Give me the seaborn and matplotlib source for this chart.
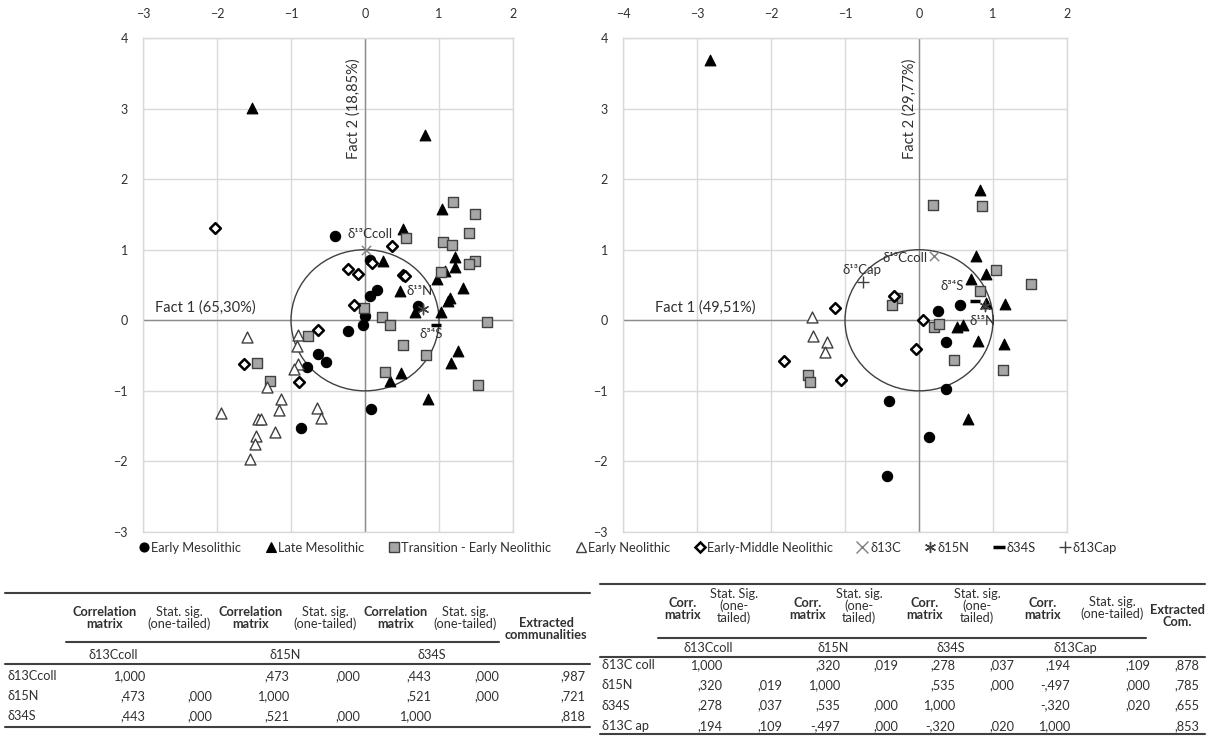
import matplotlib
matplotlib.use("Agg")
import matplotlib.pyplot as plt
from matplotlib.lines import Line2D
from matplotlib.patches import Circle
import seaborn as sns
import pandas as pd

# ---------------- data ----------------
groups = ["Early Mesolithic", "Late Mesolithic", "Transition - Early Neolithic",
          "Early Neolithic", "Early-Middle Neolithic"]

# left panel (3 isotopes)
em_L_x = [-0.41, 0.07, 0.16, 0.07, 0.00, -0.03, -0.23, -0.64, -0.53, -0.78, 0.08, -0.87, 0.72]
em_L_y = [1.20, 0.85, 0.43, 0.34, 0.06, -0.06, -0.15, -0.48, -0.59, -0.66, -1.26, -1.52, 0.20]
lm_L_x = [-1.53, 0.81, 1.04, 0.52, 0.24, 1.22, 1.22, 0.97, 1.08, 0.47, 1.32, 1.15, 1.12, 0.68,
          1.03, 1.26, 1.16, 0.49, 0.34, 0.85]
lm_L_y = [3.01, 2.62, 1.58, 1.29, 0.84, 0.89, 0.76, 0.59, 0.70, 0.42, 0.46, 0.32, 0.28, 0.12,
          0.12, -0.44, -0.61, -0.74, -0.86, -1.12]
tr_L_x = [1.19, 1.49, 1.40, 1.06, 1.17, 0.56, 1.49, 1.40, 1.03, -0.01, 0.23, 0.34, 1.65, 0.51,
          0.82, 0.27, 1.53, -0.77, -1.46, -1.29]
tr_L_y = [1.67, 1.51, 1.23, 1.11, 1.07, 1.16, 0.84, 0.80, 0.68, 0.17, 0.04, -0.07, -0.02, -0.35,
          -0.49, -0.73, -0.92, -0.22, -0.60, -0.86]
en_L_x = [-1.60, -0.91, -0.92, -0.90, -0.96, -1.33, -1.13, -1.16, -0.65, -0.60, -1.95, -1.44,
          -1.40, -1.22, -1.47, -1.49, -1.55]
en_L_y = [-0.23, -0.21, -0.36, -0.62, -0.69, -0.95, -1.12, -1.27, -1.24, -1.38, -1.32, -1.40,
          -1.40, -1.59, -1.64, -1.75, -1.97]
emn_L_x = [-2.03, 0.37, 0.09, -0.23, -0.10, 0.52, 0.54, -0.15, -0.64, -1.64, -0.89]
emn_L_y = [1.31, 1.05, 0.81, 0.72, 0.66, 0.64, 0.63, 0.21, -0.14, -0.62, -0.87]

# right panel (4 isotopes)
em_R_x = [0.25, 0.55, 0.37, 0.37, -0.40, 0.13, -0.43]
em_R_y = [0.13, 0.22, -0.31, -0.97, -1.14, -1.65, -2.20]
lm_R_x = [-2.82, 0.82, 0.77, 0.91, 0.70, 1.16, 0.90, 0.51, 0.59, 0.80, 1.15, 0.66]
lm_R_y = [3.69, 1.85, 0.91, 0.65, 0.58, 0.23, 0.24, -0.10, -0.07, -0.29, -0.33, -1.40]
tr_R_x = [0.19, 0.85, 1.04, 1.52, 0.82, -0.30, -0.36, 0.20, 0.27, 0.47, 1.13, -1.50, -1.47]
tr_R_y = [1.64, 1.62, 0.71, 0.52, 0.42, 0.31, 0.21, -0.09, -0.05, -0.56, -0.70, -0.78, -0.87]
en_R_x = [-1.45, -1.43, -1.25, -1.27]
en_R_y = [0.05, -0.22, -0.31, -0.45]
emn_R_x = [-1.14, -0.34, 0.05, -0.04, -1.82, -1.05]
emn_R_y = [0.17, 0.35, 0.01, -0.40, -0.57, -0.84]

# variable loadings
var_names_L = ["δ¹³Ccoll", "δ¹⁵N", "δ³⁴S"]
var_L_x = [0.01, 0.78, 0.96]
var_L_y = [1.00, 0.16, -0.07]
var_names_R = ["δ¹³Ccoll", "δ¹⁵N", "δ³⁴S", "δ¹³Cap"]
var_R_x = [0.20, 0.89, 0.76, -0.76]
var_R_y = [0.91, 0.20, 0.28, 0.54]

axis_labels_L = ["Fact 1 (65,30%)", "Fact 2 (18,85%)"]
axis_labels_R = ["Fact 1 (49,51%)", "Fact 2 (29,77%)"]
x_ticks_L = [-3, -2, -1, 0, 1, 2]
x_ticks_R = [-4, -3, -2, -1, 0, 1, 2]
y_ticks = [-3, -2, -1, 0, 1, 2, 3, 4]

legend_var_labels = ["δ13C", "δ15N", "δ34S", "δ13Cap"]

# tables
tL_groups = ["δ13Ccoll", "δ15N", "δ34S"]
tL_rows = ["δ13Ccoll", "δ15N", "δ34S"]
tL_vals = [["1,000", "", ",473", ",000", ",443", ",000", ",987"],
           [",473", ",000", "1,000", "", ",521", ",000", ",721"],
           [",443", ",000", ",521", ",000", "1,000", "", ",818"]]
tR_groups = ["δ13Ccoll", "δ15N", "δ34S", "δ13Cap"]
tR_rows = ["δ13C coll", "δ15N", "δ34S", "δ13C ap"]
tR_vals = [["1,000", "", ",320", ",019", ",278", ",037", ",194", ",109", ",878"],
           [",320", ",019", "1,000", "", ",535", ",000", "-,497", ",000", ",785"],
           [",278", ",037", ",535", ",000", "1,000", "", "-,320", ",020", ",655"],
           [",194", ",109", "-,497", ",000", "-,320", ",020", "1,000", "", ",853"]]

# ---------------- style ----------------
sns.set_theme(style="white")
FONT = ["Lato", "DejaVu Sans"]
plt.rcParams["font.family"] = FONT
TXT = "#303030"

W, H = 1207, 737
fig = plt.figure(figsize=(W / 100, H / 100), dpi=100)


def fx(px):
    return px / W


def fy(py):
    return 1 - py / H


styles = {
    "Early Mesolithic": dict(marker="o", color="black", edgecolor="black", s=55, linewidth=0.8),
    "Late Mesolithic": dict(marker="^", color="black", edgecolor="black", s=60, linewidth=0.8),
    "Transition - Early Neolithic": dict(marker="s", color="#a6a6a6", edgecolor="#404040", s=60, linewidth=1.0),
    "Early Neolithic": dict(marker="^", color="white", edgecolor="#404040", s=62, linewidth=1.0),
    "Early-Middle Neolithic": dict(marker="D", color="white", edgecolor="black", s=30, linewidth=1.8),
}

rows = []
for g, xs, ys in zip(groups, [em_L_x, lm_L_x, tr_L_x, en_L_x, emn_L_x],
                     [em_L_y, lm_L_y, tr_L_y, en_L_y, emn_L_y]):
    rows += [dict(panel="L", group=g, x=a, y=b) for a, b in zip(xs, ys)]
for g, xs, ys in zip(groups, [em_R_x, lm_R_x, tr_R_x, en_R_x, emn_R_x],
                     [em_R_y, lm_R_y, tr_R_y, en_R_y, emn_R_y]):
    rows += [dict(panel="R", group=g, x=a, y=b) for a, b in zip(xs, ys)]
df = pd.DataFrame(rows)

axL = fig.add_axes([fx(143), fy(532), fx(370), 494 / H])
axR = fig.add_axes([fx(623), fy(532), fx(444), 494 / H])

for ax, panel, xt, labs in [(axL, "L", x_ticks_L, axis_labels_L), (axR, "R", x_ticks_R, axis_labels_R)]:
    ax.set_xlim(xt[0], xt[-1])
    ax.set_ylim(y_ticks[0], y_ticks[-1])
    ax.set_xticks(xt)
    ax.set_yticks(y_ticks)
    ax.xaxis.tick_top()
    ax.tick_params(axis="x", length=0, pad=13, labelsize=9, labelcolor=TXT)
    ax.tick_params(axis="y", length=0, pad=11, labelsize=9, labelcolor=TXT)
    ax.grid(True, color="#d9d9d9", lw=1)
    for sp in ax.spines.values():
        sp.set_color("#d9d9d9")
        sp.set_linewidth(1)
    ax.axhline(0, color="#8c8c8c", lw=1, zorder=1)
    ax.axvline(0, color="#8c8c8c", lw=1, zorder=1)
    ax.add_patch(Circle((0, 0), 1, fill=False, edgecolor="#404040", lw=1, zorder=2))
    sub = df[df.panel == panel]
    for g in groups:
        d = sub[sub.group == g]
        st = styles[g]
        sns.scatterplot(data=d, x="x", y="y", ax=ax, marker=st["marker"], color=st["color"],
                        edgecolor=st["edgecolor"], s=st["s"], linewidth=st["linewidth"],
                        legend=False, zorder=3)
    ax.set_xlabel("")
    ax.set_ylabel("")

# axis titles
axL.text(-2.84, 0.18, axis_labels_L[0], fontsize=10.5, color=TXT, ha="left", va="center")
axL.text(-0.16, 3.0, axis_labels_L[1], fontsize=10.5, color=TXT, ha="center", va="center", rotation=90)
axR.text(-3.57, 0.18, axis_labels_R[0], fontsize=10.5, color=TXT, ha="left", va="center")
axR.text(-0.13, 3.0, axis_labels_R[1], fontsize=10.5, color=TXT, ha="center", va="center", rotation=90)

# variable markers
var_style = [dict(marker="x", color="#7f7f7f", s=45, linewidth=1.0),
             dict(marker=(6, 2, 0), color="#404040", s=55, linewidth=1.0),
             dict(marker="_", color="black", s=55, linewidth=2.5),
             dict(marker="+", color="#404040", s=70, linewidth=1.0)]
for i in range(3):
    axL.scatter(var_L_x[i], var_L_y[i], zorder=4, **var_style[i])
for i in range(4):
    axR.scatter(var_R_x[i], var_R_y[i], zorder=4, **var_style[i])

lab_kw = dict(fontsize=9.5, color=TXT, zorder=5)
axL.text(-0.24, 1.22, var_names_L[0], ha="left", va="center", **lab_kw)
axL.text(0.74, 0.41, var_names_L[1], ha="center", va="center", **lab_kw)
axL.text(0.90, -0.20, var_names_L[2], ha="center", va="center", **lab_kw)
axR.text(-0.19, 0.88, var_names_R[0], ha="center", va="center", **lab_kw)
axR.text(0.86, -0.01, var_names_R[1], ha="center", va="center", **lab_kw)
axR.text(0.45, 0.48, var_names_R[2], ha="center", va="center", **lab_kw)
axR.text(-0.77, 0.71, var_names_R[3], ha="center", va="center", **lab_kw)

# legend
handles = []
for g in groups:
    st = styles[g]
    handles.append(Line2D([], [], ls="none", marker=st["marker"], markerfacecolor=st["color"],
                          markeredgecolor=st["edgecolor"], markeredgewidth=st["linewidth"],
                          markersize=6.5 if st["marker"] != "D" else 4.8))
for vs in var_style:
    handles.append(Line2D([], [], ls="none", marker=vs["marker"], color=vs["color"],
                          markeredgewidth=vs["linewidth"], markersize=8))
fig.legend(handles, groups + legend_var_labels, ncol=9, loc="center",
           bbox_to_anchor=(fx(627), fy(548)), frameon=False, fontsize=9.3,
           handletextpad=0.1, columnspacing=1.75, handlelength=1.0, labelcolor=TXT)

# ---------------- tables ----------------
LC = "#404040"
TS = 9.2


def hline(x0, x1, y, lw=1.5):
    fig.add_artist(Line2D([fx(x0), fx(x1)], [fy(y), fy(y)], color=LC, lw=lw,
                          transform=fig.transFigure))


def ftext(x, y, s, ha="center", bold=False, size=TS, ls=1.0):
    fig.text(fx(x), fy(y), s, ha=ha, va="center", fontsize=size, color=TXT,
             fontweight="bold" if bold else "normal", linespacing=ls)


# left table
hline(5, 590, 593)
hcols = [105, 179, 251, 325, 396, 465]
for i, c in enumerate(hcols):
    if i % 2 == 0:
        ftext(c, 618, "Correlation\nmatrix", bold=True)
    else:
        ftext(c, 618, "Stat. sig.\n(one-tailed)")
ftext(546, 629, "Extracted\ncommunalities", bold=True)
hline(66, 499, 642)
for c, g in zip([113, 285, 432], tL_groups):
    ftext(c, 655, g)
hline(5, 590, 664)
vcolsL = [145, 212, 289, 360, 431, 499, 585]
for r, (lab, vals) in enumerate(zip(tL_rows, tL_vals)):
    y = 676 + 20 * r
    ftext(7, y, lab, ha="left")
    for c, v in zip(vcolsL, vals):
        ftext(c, y, v, ha="right")
hline(5, 590, 727)

# right table
hline(600, 1205, 584)
hcolsR = [683, 734, 808, 859, 925, 977, 1043, 1112]
for i, c in enumerate(hcolsR):
    if i % 2 == 0:
        ftext(c, 609, "Corr.\nmatrix", bold=True)
    elif i == 7:
        ftext(c, 608, "Stat. sig.\n(one-tailed)")
    elif i == 1:
        ftext(c, 606, "Stat. Sig.\n(one-\ntailed)", ls=0.92)
    else:
        ftext(c, 606, "Stat. sig.\n(one-\ntailed)", ls=0.92)
ftext(1177, 616, "Extracted\nCom.", bold=True)
hline(658, 1146, 638)
for c, g in zip([708, 833, 951, 1075], tR_groups):
    ftext(c, 648, g)
hline(600, 1205, 657)
vcolsR = [722, 782, 840, 898, 955, 1014, 1070, 1150, 1199]
for r, (lab, vals) in enumerate(zip(tR_rows, tR_vals)):
    y = 665 + 20.3 * r
    ftext(602, y, lab, ha="left")
    for c, v in zip(vcolsR, vals):
        ftext(c, y, v, ha="right")
hline(600, 1205, 734)

fig.savefig("out.png", dpi=100)
